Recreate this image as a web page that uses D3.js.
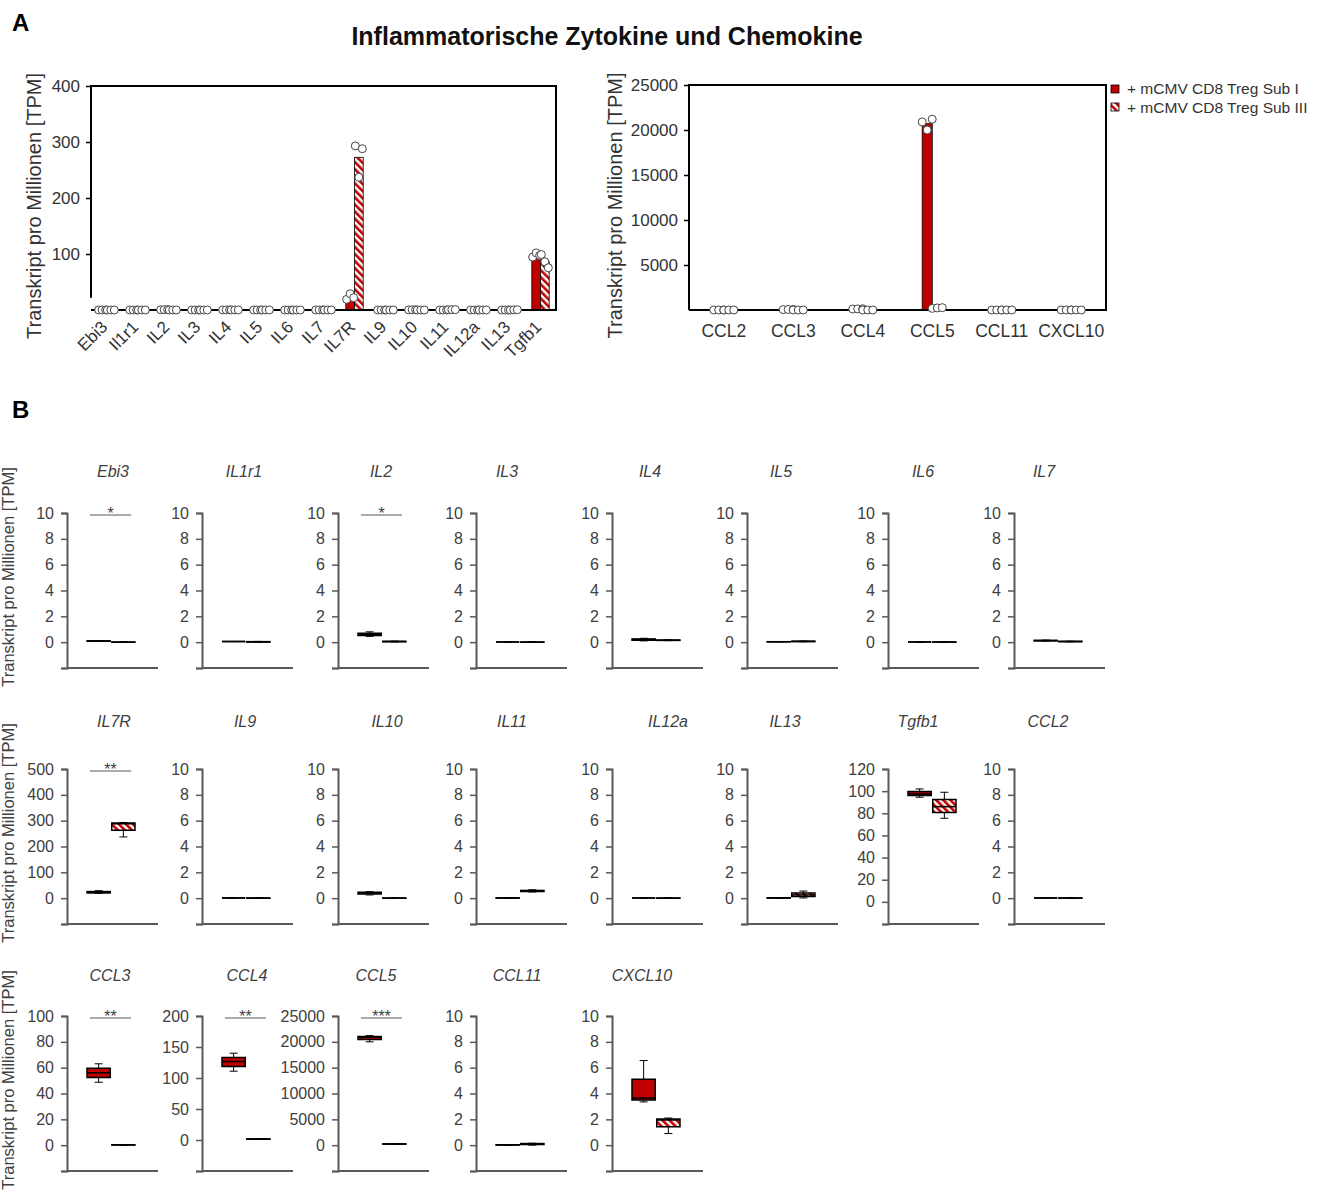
<!DOCTYPE html>
<html>
<head>
<meta charset="utf-8">
<script src="https://cdn.jsdelivr.net/npm/d3@7"></script>
<style>
  body { margin: 0; background: #fff; }
  svg { display: block; }
</style>
</head>
<body>
<svg id="fig" width="1324" height="1192"></svg>
<script>
// ---- data -------------------------------------------------------------
const genes = ["Ebi3","Il1r1","IL2","IL3","IL4","IL5","IL6","IL7","IL7R","IL9","IL10",
               "IL11","IL12a","IL13","Tgfb1","CCL2","CCL3","CCL4","CCL5","CCL11","CXCL10"];
const titlesB = ["Ebi3","IL1r1","IL2","IL3","IL4","IL5","IL6","IL7","IL7R","IL9","IL10",
                 "IL11","IL12a","IL13","Tgfb1","CCL2","CCL3","CCL4","CCL5","CCL11","CXCL10"];
const seriesNames = ["+ mCMV CD8 Treg Sub I", "+ mCMV CD8 Treg Sub III"];

// replicate TPM values (three samples per group), gene order as above
const subI = [
  [0.06,0.09,0.11],[0.05,0.05,0.05],[0.45,0.6,0.8],[0.02,0.02,0.02],[0.1,0.2,0.3],
  [0.03,0.03,0.04],[0.02,0.02,0.02],[0.08,0.12,0.16],[19,29,22],[0.02,0.02,0.02],
  [0.25,0.4,0.5],[0,0.01,0.03],[0.02,0.02,0.02],[0,0.02,0.04],[94.5,102,97.5],
  [0.02,0.02,0.02],[48.7,56,63],[111,126.5,140],[20900,20000,21200],[0,0.02,0.04],
  [3.35,3.65,6.55]
];
const subIII = [
  [0,0,0.02],[0,0.02,0.06],[0.02,0.05,0.08],[0,0,0.03],[0.12,0.15,0.18],
  [0.03,0.06,0.09],[0,0,0.03],[0.03,0.05,0.08],[293,237,288],[0,0,0.03],
  [0,0,0.02],[0.48,0.55,0.65],[0,0,0.03],[0.02,0.25,0.55],[99,86,75.5],
  [0,0,0.03],[0.1,0.2,0.4],[1,1.5,2],[180,230,260],[0,0.1,0.15],
  [0.9,1.95,2.1]
];

// small-multiple axis maxima / tick steps and significance marks
const axisMaxB  = [10,10,10,10,10,10,10,10, 500,10,10,10,10,10,120,10, 100,200,25000,10,10];
const axisStepB = [2,2,2,2,2,2,2,2, 100,2,2,2,2,2,20,2, 20,50,5000,2,2];
const sigB = ["*","","*","","","","","", "**","","","","","","","", "**","**","***","",""];

const ticksCytokines = [100,200,300,400];
const ticksChemokines = [5000,10000,15000,20000,25000];

// ---- layout ------------------------------------------------------------
const colX = [67, 202, 338, 476, 612, 747, 888, 1014];
const rowTop = [513, 769, 1016];
const rowTitleY = [477, 727, 981];
// horizontal title offset from each small plot's y axis
const titleDx = [46,42,43,31,38,34,35,30, 47,43,49,36,56,38,30,34, 43,45,38,41,30];
const plotH = 155, plotW = 91;

// ---- drawing -----------------------------------------------------------
const FONT = "'Liberation Sans', Arial, sans-serif";
const RED = "#c00000";
const INK = "#404040";
const svg = d3.select("#fig").style("font-family", FONT);

const defs = svg.append("defs");
const hatch = defs.append("pattern").attr("id", "hatch")
  .attr("patternUnits", "userSpaceOnUse").attr("width", 5).attr("height", 5)
  .attr("patternTransform", "rotate(-45)");
hatch.append("rect").attr("width", 5).attr("height", 5).attr("fill", "#fff");
hatch.append("rect").attr("width", 2.6).attr("height", 5).attr("fill", RED);
const fills = [RED, "url(#hatch)"];
const reps = [subI, subIII];

// headings
svg.append("text").attr("x", 12).attr("y", 31).attr("font-size", 24).attr("font-weight", "bold").text("A");
svg.append("text").attr("x", 12).attr("y", 418).attr("font-size", 24).attr("font-weight", "bold").text("B");
svg.append("text").attr("x", 607).attr("y", 45).attr("text-anchor", "middle")
  .attr("font-size", 25).attr("font-weight", "bold").attr("fill", "#111")
  .text("Inflammatorische Zytokine und Chemokine");

// ---- panel A: grouped bar charts with replicate dots -------------------
function barPanel(o) {
  const idx = d3.range(o.from, o.to);
  const x = d3.scaleBand().domain(idx).range([o.left, o.right])
    .paddingInner(o.pad).paddingOuter(o.pad / 2);
  const xs = d3.scaleBand().domain([0, 1]).range([0, x.bandwidth()]);
  const y = d3.scaleLinear().domain([0, o.max]).range([o.bottom, o.top]);
  const g = svg.append("g");

  // bars (group means)
  idx.forEach(i => {
    [0, 1].forEach(s => {
      const m = d3.mean(reps[s][i]);
      g.append("rect")
        .attr("x", x(i) + xs(s)).attr("width", xs.bandwidth())
        .attr("y", y(m)).attr("height", y(0) - y(m))
        .attr("fill", fills[s]).attr("stroke", "#000").attr("stroke-width", 0.8);
    });
  });

  // frame
  g.append("path")
    .attr("d", `M${o.left},${y(o.leftStop)} V${o.top} H${o.right} V${o.bottom} H${o.left}`)
    .attr("fill", "none").attr("stroke", "#000").attr("stroke-width", 2);

  // replicate dots
  idx.forEach(i => {
    [0, 1].forEach(s => {
      reps[s][i].forEach((v, j) => {
        g.append("circle")
          .attr("cx", x(i) + xs(s) + xs.bandwidth() / 2 + (j - 1) * o.jit)
          .attr("cy", y(v)).attr("r", 4)
          .attr("fill", "#fff").attr("stroke", "#444").attr("stroke-width", 1);
      });
    });
  });

  // y axis
  const ya = g.append("g").attr("transform", `translate(${o.left},0)`)
    .call(d3.axisLeft(y).tickValues(o.ticks).tickSize(5).tickPadding(6).tickFormat(d3.format("d")));
  ya.select(".domain").remove();
  ya.selectAll("line").attr("stroke", "#000").attr("stroke-width", 1.5);
  ya.selectAll("text").attr("font-size", 17).attr("fill", "#333").attr("font-family", FONT);

  // y title
  g.append("text").attr("transform", `translate(${o.titleX},${(o.top + o.bottom) / 2 + 8}) rotate(-90)`)
    .attr("text-anchor", "middle").attr("font-size", 20).attr("fill", "#333")
    .text("Transkript pro Millionen [TPM]");

  // category labels
  idx.forEach(i => {
    const cx = x(i) + x.bandwidth() / 2;
    if (o.rotate) {
      g.append("text").attr("transform", `translate(${cx + 2},${o.bottom + 18}) rotate(-45)`)
        .attr("text-anchor", "end").attr("font-size", 17).attr("fill", "#333").text(o.labels[i]);
    } else {
      g.append("text").attr("x", cx).attr("y", o.bottom + 27)
        .attr("text-anchor", "middle").attr("font-size", 17.5).attr("fill", "#333").text(o.labels[i]);
    }
  });
}

barPanel({ from: 0, to: 15, left: 91, right: 556, top: 86, bottom: 310, max: 400,
           pad: 0.44, jit: 3.5, ticks: ticksCytokines, leftStop: 22, titleX: 41,
           labels: genes, rotate: true });
barPanel({ from: 15, to: 21, left: 689, right: 1106, top: 85, bottom: 310, max: 25000,
           pad: 0.71, jit: 5, ticks: ticksChemokines, leftStop: 0, titleX: 622,
           labels: genes, rotate: false });

// legend
const leg = svg.append("g");
seriesNames.forEach((name, s) => {
  leg.append("rect").attr("x", 1111).attr("y", 85 + s * 18).attr("width", 8).attr("height", 8)
    .attr("fill", fills[s]).attr("stroke", "#000").attr("stroke-width", 0.8);
  leg.append("text").attr("x", 1127).attr("y", 94 + s * 18.5).attr("font-size", 15.5)
    .attr("fill", "#333").text(name);
});

// ---- panel B: box plots per gene -----------------------------------------
rowTop.forEach(t => {
  svg.append("text").attr("transform", `translate(13.5,${t + 64}) rotate(-90)`)
    .attr("text-anchor", "middle").attr("font-size", 16.5).attr("fill", INK)
    .text("Transkript pro Millionen [TPM]");
});

genes.forEach((gene, i) => {
  const r = Math.floor(i / 8), c = i % 8;
  const ax = colX[c], top = rowTop[r], bottom = top + plotH;
  const step = axisStepB[i], max = axisMaxB[i];
  const y = d3.scaleLinear().domain([-step, max]).range([bottom, top]);
  const x = d3.scaleBand().domain([0, 1]).range([ax + 20, ax + 68]).paddingInner(0.06);
  const g = svg.append("g");

  // axes
  const ya = g.append("g").attr("transform", `translate(${ax},0)`)
    .call(d3.axisLeft(y).tickValues(d3.range(-step, max + step / 2, step)).tickSize(6).tickPadding(7)
      .tickFormat(v => v < 0 ? "" : d3.format("d")(v)));
  ya.select(".domain").attr("stroke", "#595959").attr("stroke-width", 2);
  ya.selectAll("line").attr("stroke", "#595959").attr("stroke-width", 1.5);
  ya.selectAll("text").attr("font-size", 16).attr("fill", INK).attr("font-family", FONT);
  g.append("line").attr("x1", ax).attr("x2", ax + plotW).attr("y1", bottom).attr("y2", bottom)
    .attr("stroke", "#595959").attr("stroke-width", 2);

  // boxes
  [0, 1].forEach(s => {
    const v = reps[s][i].slice().sort(d3.ascending);
    const q1 = d3.quantile(v, 0.25), med = d3.quantile(v, 0.5), q3 = d3.quantile(v, 0.75);
    const lo = v[0], hi = v[v.length - 1];
    const x0 = x(s), x1 = x(s) + x.bandwidth(), cx = (x0 + x1) / 2;
    const wk = g.append("g").attr("stroke", "#000").attr("stroke-width", 1);
    wk.append("line").attr("x1", cx).attr("x2", cx).attr("y1", y(hi)).attr("y2", y(q3));
    wk.append("line").attr("x1", cx).attr("x2", cx).attr("y1", y(q1)).attr("y2", y(lo));
    wk.append("line").attr("x1", cx - 4).attr("x2", cx + 4).attr("y1", y(hi)).attr("y2", y(hi));
    wk.append("line").attr("x1", cx - 4).attr("x2", cx + 4).attr("y1", y(lo)).attr("y2", y(lo));
    g.append("path").attr("d", `M${x0},${y(q3)} H${x1} V${y(q1)} H${x0} Z`)
      .attr("fill", fills[s]).attr("stroke", "#000").attr("stroke-width", 1.5);
    g.append("line").attr("x1", x0).attr("x2", x1).attr("y1", y(med)).attr("y2", y(med))
      .attr("stroke", "#000").attr("stroke-width", 1.5);
  });

  // title
  g.append("text").attr("x", ax + titleDx[i]).attr("y", rowTitleY[r]).attr("text-anchor", "middle")
    .attr("font-size", 16).attr("font-style", "italic").attr("fill", INK).text(titlesB[i]);

  // significance
  if (sigB[i]) {
    g.append("line").attr("x1", ax + 23).attr("x2", ax + 64).attr("y1", top + 2).attr("y2", top + 2)
      .attr("stroke", "#595959").attr("stroke-width", 1);
    g.append("text").attr("x", ax + 43.5).attr("y", top + 6).attr("text-anchor", "middle")
      .attr("font-size", 16).attr("fill", INK).text(sigB[i]);
  }
});
</script>
</body>
</html>
